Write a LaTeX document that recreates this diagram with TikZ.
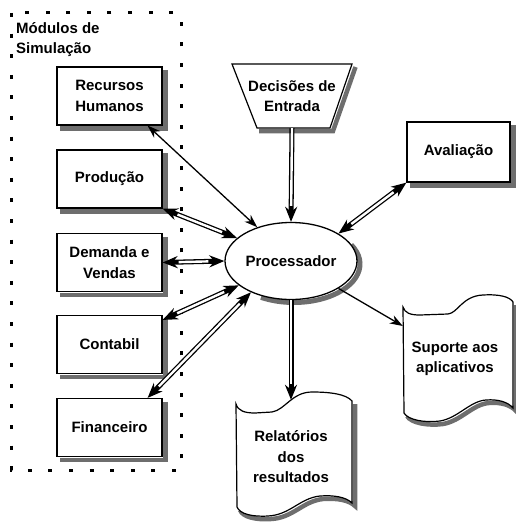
\documentclass[tikz,border=0pt]{standalone}
\usepackage{fontspec}
\setmainfont{Liberation Sans}
\usetikzlibrary{arrows.meta,shapes.geometric}
\newcommand\relshape{(236,404) .. controls (238,411) and (245,413) .. (255,413) -- (272,412)
  .. controls (285,410) and (292,392) .. (312,392) .. controls (330,392) and (346,394) .. (352,401)
  -- (352,503) .. controls (346,497) and (334,495) .. (320,496)
  .. controls (300,498) and (290,515) .. (268,516) .. controls (252,517) and (240,514) .. (237,507) -- cycle}
\newcommand\supshape{(403,307) .. controls (405,313) and (410,315) .. (420,315) -- (448,314)
  .. controls (458,313) and (462,296) .. (483,295) .. controls (500,294) and (510,297) .. (513,302)
  -- (513,408) .. controls (508,402) and (498,399) .. (486,400)
  .. controls (470,401) and (458,418) .. (440,421) .. controls (425,423) and (408,420) .. (404,413) -- cycle}
\newcommand\decshape{(232,64) -- (352,64) -- (330,128) -- (257,128) -- cycle}
\definecolor{shadowgray}{RGB}{110,110,110}
\begin{document}
\begin{tikzpicture}[x=1pt,y=-1pt,
  every node/.style={font=\fontsize{15}{20.5}\selectfont\bfseries, align=center, inner sep=0pt},
  box/.style={draw, line width=1.2pt, fill=white, minimum width=105pt, minimum height=58pt},
  outline/.style={draw, line width=1.2pt, fill=white},
  shadowstroke/.style={draw=shadowgray, line width=4.5pt},
  frame/.style={line width=3pt, dash pattern=on 4pt off 16.6pt},
  tipA/.tip={Stealth[length=15pt,width=12pt,inset=5pt]},
  tipB/.tip={Stealth[length=13pt,width=9pt,inset=4pt]},
  dbltwo/.style={line width=5pt, {tipA}-{tipA}, postaction={draw=white, line width=2.4pt, arrows=-, shorten <=16pt, shorten >=16pt}},
  dblone/.style={line width=5pt, -{tipA}, postaction={draw=white, line width=2.4pt, arrows=-, shorten >=16pt}},
  sgltwo/.style={line width=1.3pt, {tipB}-{tipB}},
  sglone/.style={line width=1.3pt, -{tipB}},
]
\useasboundingbox (0,0) rectangle (515,524);

\draw[frame] (11,13) rectangle (181,470);

\node[anchor=north west, align=left] (title) at (16,22) {Módulos de\\Simulação};

\node[box] (rh) at (109.5,96) {Recursos\\Humanos};
\node[box] (prod) at (109.5,179) {Produção};
\node[box] (dem) at (109.5,262.5) {Demanda e\\Vendas};
\node[box] (cont) at (109.5,344.5) {Contabil};
\node[box] (fin) at (109.5,427.5) {Financeiro};
\node[box, minimum width=103pt, minimum height=60pt] (aval) at (458.5,152) {Avaliação};

% shadow strips (right and bottom) for rectangular boxes
\foreach \n in {rh,prod,dem,cont,fin,aval}
  \draw[shadowstroke] ([shift={(3,4)}]\n.north east) -- ([shift={(3,3)}]\n.south east)
    -- ([shift={(4,3)}]\n.south west);

% processor ellipse with crescent shadow
\draw[shadowstroke, line width=5pt] (294,264) ++(-30:66 and 38.5)
  arc [start angle=-30, end angle=120, x radius=66, y radius=38.5];
\node[ellipse, draw, line width=1.3pt, fill=white,
      minimum width=132pt, minimum height=77pt] (proc) at (291,261) {Processador};

% shadows of the drawn shapes
\draw[shadowstroke] (355.5,67) -- (333,131) -- (259,131);
\draw[shadowstroke] (355,404) -- (355,506) .. controls (349,500) and (337,498) .. (323,499)
  .. controls (303,501) and (293,518) .. (271,519) .. controls (255,520) and (243,517) .. (240,510);
\draw[shadowstroke] (516,305) -- (516,411) .. controls (511,405) and (501,402) .. (489,403)
  .. controls (473,404) and (461,421) .. (443,424) .. controls (428,426) and (411,423) .. (407,416);
% outlines
\draw[outline] \decshape;
\draw[outline] \relshape;
\draw[outline] \supshape;

\node[minimum width=120pt, minimum height=64pt] (dec) at (292,96) {Decisões de\\Entrada};
\node[minimum width=116pt, minimum height=114pt] (rel) at (291,457) {Relatórios\\dos\\resultados};
\node[minimum width=104pt, minimum height=110pt] (sup) at (455,359) {Suporte aos\\aplicativos};

\draw[sgltwo] ([xshift=-15pt]rh.south east) -- (proc.135);
\draw[dbltwo] (prod.south east) -- (proc.157);
\draw[dbltwo] (dem.east) -- (proc.west);
\draw[dbltwo] ([yshift=-5pt]cont.north east) -- (proc.205);
\draw[dbltwo] ([xshift=-15pt]fin.north east) -- (proc.218);
\draw[dblone] (dec.south) -- (proc.north);
\draw[dblone] (proc.south) -- (rel.north);
\draw[dbltwo] (proc.30) -- (aval.south west);
\draw[sglone] (proc.-30) -- ([yshift=33pt]sup.west);
\end{tikzpicture}
\end{document}
